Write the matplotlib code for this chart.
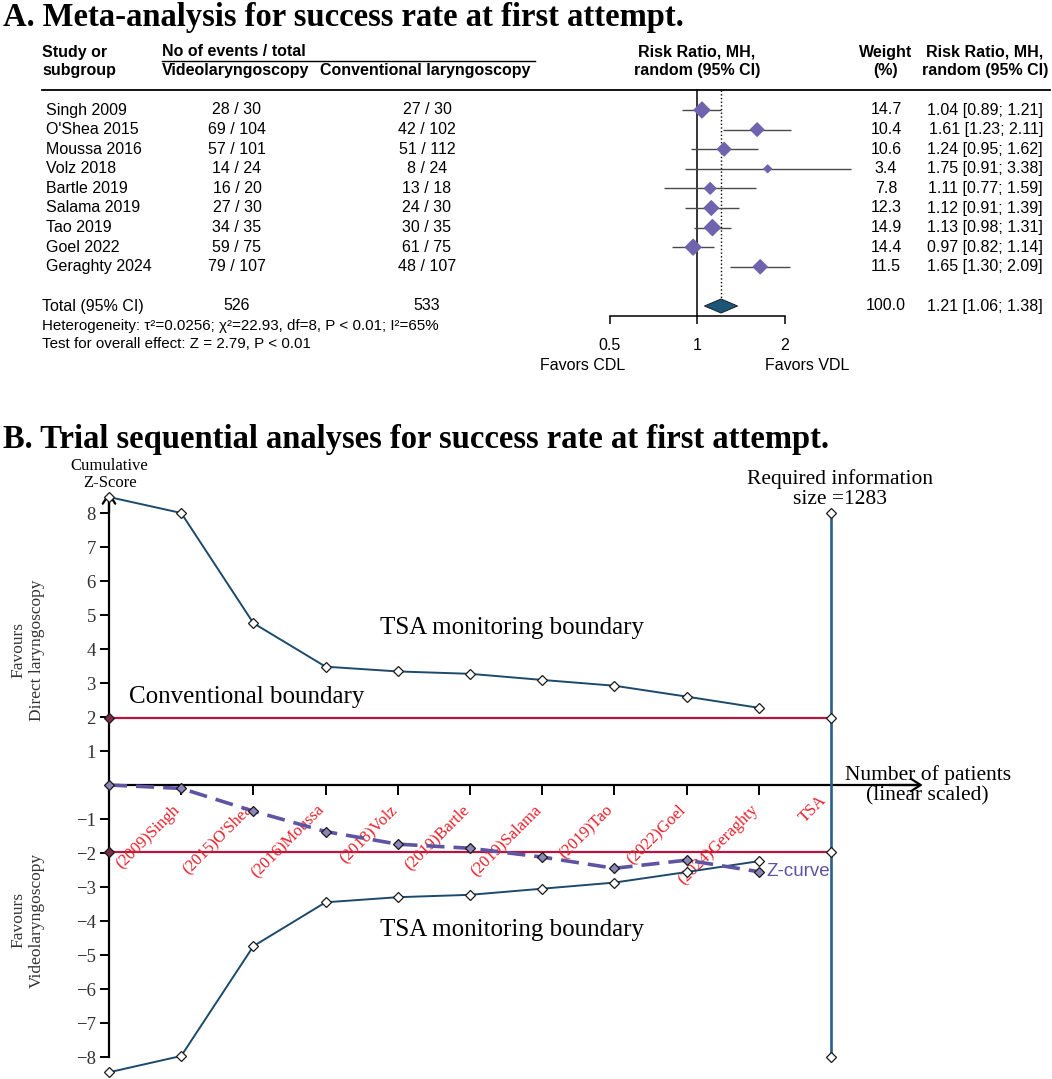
"""Forest plot and trial sequential analysis for first-attempt success rate."""

import matplotlib
matplotlib.use("Agg")
import matplotlib.pyplot as plt
import numpy as np
from matplotlib.ticker import FixedLocator, NullLocator
from matplotlib.transforms import blended_transform_factory

plt.rcParams["font.family"] = ["Liberation Sans", "DejaVu Sans"]

W, H = 1052, 1079
SERIF = ["Liberation Serif", "DejaVu Serif"]

# ---- panel A data ----
studies = ["Singh", "O'Shea", "Moussa", "Volz", "Bartle", "Salama", "Tao", "Goel", "Geraghty"]
years = [2009, 2015, 2016, 2018, 2019, 2019, 2019, 2022, 2024]
vdl_events = [28, 69, 57, 14, 16, 27, 34, 59, 79]
vdl_total = [30, 104, 101, 24, 20, 30, 35, 75, 107]
cdl_events = [27, 42, 51, 8, 13, 24, 30, 61, 48]
cdl_total = [30, 102, 112, 24, 18, 30, 35, 75, 107]
weights = [14.7, 10.4, 10.6, 3.4, 7.8, 12.3, 14.9, 14.4, 11.5]
rr = [1.04, 1.61, 1.24, 1.75, 1.11, 1.12, 1.13, 0.97, 1.65]
rr_lo = [0.89, 1.23, 0.95, 0.91, 0.77, 0.91, 0.98, 0.82, 1.30]
rr_hi = [1.21, 2.11, 1.62, 3.38, 1.59, 1.39, 1.31, 1.14, 2.09]
pooled = (1.21, 1.06, 1.38)
het_text = "Heterogeneity: τ²=0.0256; χ²=22.93, df=8, P < 0.01; I²=65%"
overall_text = "Test for overall effect: Z = 2.79, P < 0.01"

# ---- panel B data ----
upper_bound = [8.47, 8.00, 4.76, 3.48, 3.34, 3.27, 3.09, 2.92, 2.60, 2.27]
lower_bound = [-8.45, -7.97, -4.74, -3.45, -3.30, -3.23, -3.05, -2.87, -2.56, -2.24]
z_curve = [0.0, -0.10, -0.77, -1.37, -1.74, -1.86, -2.12, -2.45, -2.21, -2.55]
conv_bound = 1.96
ris = 1283
z_ticks = [-8, -7, -6, -5, -4, -3, -2, -1, 1, 2, 3, 4, 5, 6, 7, 8]


def px_axes(fig, left, top, right, bottom):
    return fig.add_axes([left / W, 1 - bottom / H, (right - left) / W, (bottom - top) / H])


fig = plt.figure(figsize=(W / 100, H / 100), dpi=100)

page = px_axes(fig, 0, 0, W, H)
page.set_xlim(0, W)
page.set_ylim(H, 0)
page.axis("off")

page.text(3, 26, "A. Meta-analysis for success rate at first attempt.", family=SERIF,
          fontsize=23.5, fontweight="bold", va="baseline")
page.text(3, 448, "B. Trial sequential analyses for success rate at first attempt.", family=SERIF,
          fontsize=23.5, fontweight="bold", va="baseline")

# ---------------- panel A: forest plot ----------------
log_px = 87.5  # pixels per doubling
fa = px_axes(fig, 540, 90, 860, 316)
fa.set_xscale("log", base=2)
fa.set_xlim(2 ** ((540 - 697) / log_px), 2 ** ((860 - 697) / log_px))
n = len(studies)
total_row = n + 1
fa.set_ylim((316 - 110) / 19.6, (90 - 110) / 19.6)
fa.patch.set_visible(False)
for side in ["top", "left", "right"]:
    fa.spines[side].set_visible(False)
fa.spines["bottom"].set_bounds(0.5, 2)
fa.spines["bottom"].set_linewidth(1.1)
fa.xaxis.set_major_locator(FixedLocator([0.5, 1, 2]))
fa.xaxis.set_minor_locator(NullLocator())
fa.set_xticklabels(["0.5", "1", "2"])
fa.tick_params(axis="x", direction="out", length=6, width=1.1, pad=10, labelsize=11.5)
fa.set_yticks([])

rows = np.arange(n)
fa.hlines(rows, rr_lo, rr_hi, color="#4a4a4a", lw=1.0, zorder=2)
fa.scatter(rr, rows, marker="D", s=np.array(weights) * 4.4, color="#6f63ae",
           edgecolor="#6f63ae", zorder=3)
ylo, yhi = fa.get_ylim()
fa.plot([1, 1], [yhi, ylo], color="black", lw=1.1, clip_on=False, zorder=1)
dh = 0.36
fa.plot([pooled[0]] * 2, [yhi, total_row - dh], ls=":", color="black", lw=1.0, zorder=1)
fa.fill([pooled[1], pooled[0], pooled[2], pooled[0]],
        [total_row, total_row - dh, total_row, total_row + dh],
        facecolor="#1b5578", edgecolor="#111111", lw=0.6, zorder=3)

tr = blended_transform_factory(page.transData, fa.transData)
fs = 11.5
for i in range(n):
    fa.text(46, i, f"{studies[i]} {years[i]}", transform=tr, fontsize=fs, va="center")
    fa.text(237, i, f"{vdl_events[i]} / {vdl_total[i]}", transform=tr, fontsize=fs,
            va="center", ha="center")
    fa.text(427, i, f"{cdl_events[i]} / {cdl_total[i]}", transform=tr, fontsize=fs,
            va="center", ha="center")
    fa.text(886, i, f"{weights[i]:.1f}", transform=tr, fontsize=fs, va="center", ha="center")
    fa.text(1043, i, f"{rr[i]:.2f} [{rr_lo[i]:.2f}; {rr_hi[i]:.2f}]", transform=tr,
            fontsize=fs, va="center", ha="right")

fa.text(42, total_row, "Total (95% CI)", transform=tr, fontsize=fs, va="center")
fa.text(237, total_row, f"{sum(vdl_total)}", transform=tr, fontsize=fs, va="center", ha="center")
fa.text(427, total_row, f"{sum(cdl_total)}", transform=tr, fontsize=fs, va="center", ha="center")
fa.text(886, total_row, f"{sum(weights):.1f}", transform=tr, fontsize=fs, va="center", ha="center")
fa.text(1043, total_row, f"{pooled[0]:.2f} [{pooled[1]:.2f}; {pooled[2]:.2f}]", transform=tr,
        fontsize=fs, va="center", ha="right")

# header
hdr = dict(fontsize=fs, fontweight="bold", va="center")
page.text(42, 52, "Study or", **hdr)
page.text(42, 71, "subgroup", **hdr)
page.text(162, 52, "No of events / total", **hdr)
page.text(162, 71, "Videolaryngoscopy", **hdr)
page.text(320, 71, "Conventional laryngoscopy", **hdr)
page.text(697, 52, "Risk Ratio, MH,", ha="center", **hdr)
page.text(697, 71, "random (95% CI)", ha="center", **hdr)
page.text(886, 52, "Weight", ha="center", **hdr)
page.text(886, 71, "(%)", ha="center", **hdr)
page.text(985, 52, "Risk Ratio, MH,", ha="center", **hdr)
page.text(985, 71, "random (95% CI)", ha="center", **hdr)
page.plot([162, 535], [61, 61], color="black", lw=1.0)
page.plot([42, 1050], [90, 90], color="black", lw=1.3)

page.text(42, 326, het_text, fontsize=10.9, va="center")
page.text(42, 344, overall_text, fontsize=10.9, va="center")
page.text(583, 365, "Favors CDL", fontsize=fs, va="center", ha="center")
page.text(807, 365, "Favors VDL", fontsize=fs, va="center", ha="center")

# ---------------- panel B: trial sequential analysis ----------------
step = 72.2
zpx = 34.0
ta = px_axes(fig, 0, 455, W, H)
ta.set_xlim(-109 / step, (W - 109) / step)
ta.set_ylim((785 - H) / zpx, (785 - 455) / zpx)
ta.patch.set_visible(False)
for side in ["top", "right"]:
    ta.spines[side].set_visible(False)
ta.spines["left"].set_position(("data", 0))
ta.spines["left"].set_bounds(-8, 8.5)
ta.spines["bottom"].set_position(("data", 0))
ta.spines["bottom"].set_bounds(0, 11.2)
for side in ["left", "bottom"]:
    ta.spines[side].set_linewidth(1.6)

x_pos = np.arange(len(studies) + 1)
tsa_x = len(studies) + 1

ta.set_yticks(z_ticks)
ta.set_yticklabels([f"{t}".replace("-", "\u2212") for t in z_ticks], family=SERIF, color="#333333")
ta.tick_params(axis="y", direction="out", length=6.5, width=1.4, labelsize=13.5, pad=3)
ta.set_xticks(x_pos[1:])
ta.set_xticklabels([])
ta.tick_params(axis="x", direction="out", length=7, width=1.4)

arrow = dict(arrowstyle="->,head_length=0.7,head_width=0.45", lw=1.6, color="black",
             shrinkA=0, shrinkB=0)
ta.annotate("", xy=(0, 8.62), xytext=(0, 8.0), arrowprops=arrow)
ta.annotate("", xy=(11.27, 0), xytext=(10.8, 0), arrowprops=arrow)

red = "#b5153f"
bound_col = "#1c4a6c"
mk = dict(marker="D", ms=5, mec="#1a1a1a", mew=0.9)

for level in (conv_bound, -conv_bound):
    ta.plot([0, tsa_x], [level, level], color=red, lw=1.6, zorder=2)
    ta.plot([0], [level], ls="none", mfc="#7d2c4c", **mk, zorder=5)

ta.plot([tsa_x, tsa_x], [-8, 8], color="#2b5e88", lw=1.9, zorder=3)
ta.plot([tsa_x] * 4, [8, conv_bound, -conv_bound, -8], ls="none", mfc="white", **mk, zorder=5)

ta.plot(x_pos, upper_bound, color=bound_col, lw=1.4, mfc="white", **mk, zorder=4)
ta.plot(x_pos, lower_bound, color=bound_col, lw=1.4, mfc="white", **mk, zorder=4)
ta.plot(x_pos, z_curve, color="#5f54a2", lw=2.6, ls=(0, (5, 2.5)), zorder=4)
ta.plot(x_pos, z_curve, ls="none", mfc="#8a86b8", **mk, zorder=5)

lab_red = "#e8202a"
for i in range(len(studies)):
    ta.annotate(f"({years[i]}){studies[i]}", xy=(x_pos[i + 1], 0), xytext=(1.5, -12),
                textcoords="offset points", rotation=45, ha="right", va="top",
                color=lab_red, family=SERIF, fontsize=12)
ta.annotate("TSA", xy=(tsa_x, 0), xytext=(-0.7, -5), textcoords="offset points",
            rotation=45, ha="right", va="top", color=lab_red, family=SERIF, fontsize=12)

ta.text(0.01, 9.13, "Cumulative\nZ-Score", family=SERIF, fontsize=12, ha="center",
        va="center", linespacing=1.05)
ta.text(tsa_x + 0.12, 8.71, f"Required information\nsize ={ris}", family=SERIF, fontsize=15.5,
        ha="center", va="center", linespacing=1.1)
ta.text(11.34, 0.0, "Number of patients\n(linear scaled)", family=SERIF, fontsize=15.5,
        ha="center", va="center", linespacing=1.1)
ta.text(5.58, 4.62, "TSA monitoring boundary", family=SERIF, fontsize=18, ha="center",
        va="center")
ta.text(5.58, -4.26, "TSA monitoring boundary", family=SERIF, fontsize=18, ha="center",
        va="center")
ta.text(1.91, 2.59, "Conventional boundary", family=SERIF, fontsize=18, ha="center",
        va="center")
ta.text(x_pos[-1] + 0.1, z_curve[-1], "Z-curve", fontsize=13.5, color="#5f54a2", va="center")
ta.text(-1.13, 3.97, "Favours\nDirect laryngoscopy", family=SERIF, fontsize=12.5, rotation=90,
        ha="center", va="center", color="#333333", linespacing=1.2)
ta.text(-1.13, -3.97, "Favours\nVideolaryngoscopy", family=SERIF, fontsize=12.5, rotation=90,
        ha="center", va="center", color="#333333", linespacing=1.2)

fig.savefig("out.png", dpi=100)
